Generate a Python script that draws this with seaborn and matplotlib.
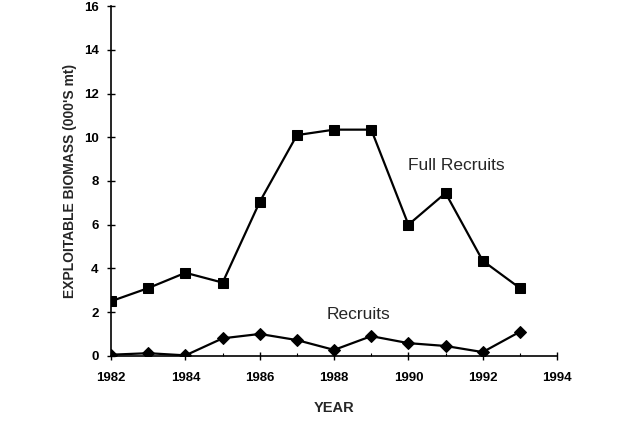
import matplotlib
matplotlib.use("Agg")
import matplotlib.pyplot as plt
import seaborn as sns
import pandas as pd

years = [1982, 1983, 1984, 1985, 1986, 1987, 1988, 1989, 1990, 1991, 1992, 1993]
full_recruits = [2.5, 3.1, 3.8, 3.35, 7.05, 10.1, 10.35, 10.35, 6.0, 7.45, 4.35, 3.1]
recruits = [0.05, 0.12, 0.02, 0.8, 1.0, 0.72, 0.27, 0.9, 0.58, 0.45, 0.17, 1.1]
x_ticks = [1982, 1984, 1986, 1988, 1990, 1992, 1994]
y_ticks = [0, 2, 4, 6, 8, 10, 12, 14, 16]

sns.set_theme(style="ticks")
plt.rcParams["font.family"] = ["Liberation Sans", "DejaVu Sans"]

df = pd.DataFrame({"year": years, "full": full_recruits, "rec": recruits})

fig = plt.figure(figsize=(6.21, 4.42), dpi=100)
ax = fig.add_axes([0.179, 0.195, 0.718, 0.791])

sns.lineplot(data=df, x="year", y="full", ax=ax, color="black", lw=1.6,
             marker="s", markersize=7.5, markeredgecolor="black")
sns.lineplot(data=df, x="year", y="rec", ax=ax, color="black", lw=1.6,
             marker="D", markersize=6, markeredgecolor="black")

ax.set_xlim(1982, 1994)
ax.set_ylim(0, 16)
ax.set_xticks(x_ticks)
ax.set_yticks(y_ticks)
ax.set_xticks(range(1983, 1994, 2), minor=True)
ax.set_xticklabels([str(t) for t in x_ticks], fontsize=9.5, fontweight="bold")
ax.set_yticklabels([str(t) for t in y_ticks], fontsize=9.5, fontweight="bold")
ax.tick_params(axis="both", which="major", direction="inout", length=6, width=1,
               colors="black")
ax.tick_params(axis="x", which="major", pad=9)
ax.tick_params(axis="y", which="major", pad=6)
ax.tick_params(axis="x", which="minor", direction="in", length=2, width=0.8,
               colors="black")
for side in ("top", "right"):
    ax.spines[side].set_visible(False)
for side in ("left", "bottom"):
    ax.spines[side].set_color("black")
    ax.spines[side].set_linewidth(1.2)

ax.set_xlabel("YEAR", fontsize=10.5, fontweight="bold", labelpad=12)
ax.set_ylabel("EXPLOITABLE BIOMASS (000'S mt)", fontsize=10, fontweight="bold",
              labelpad=5)

ax.text(1990.0, 8.7, "Full Recruits", fontsize=12.5, va="center", ha="left")
ax.text(1987.8, 1.9, "Recruits", fontsize=12.5, va="center", ha="left")

fig.savefig("out.png", dpi=100, facecolor="white")
